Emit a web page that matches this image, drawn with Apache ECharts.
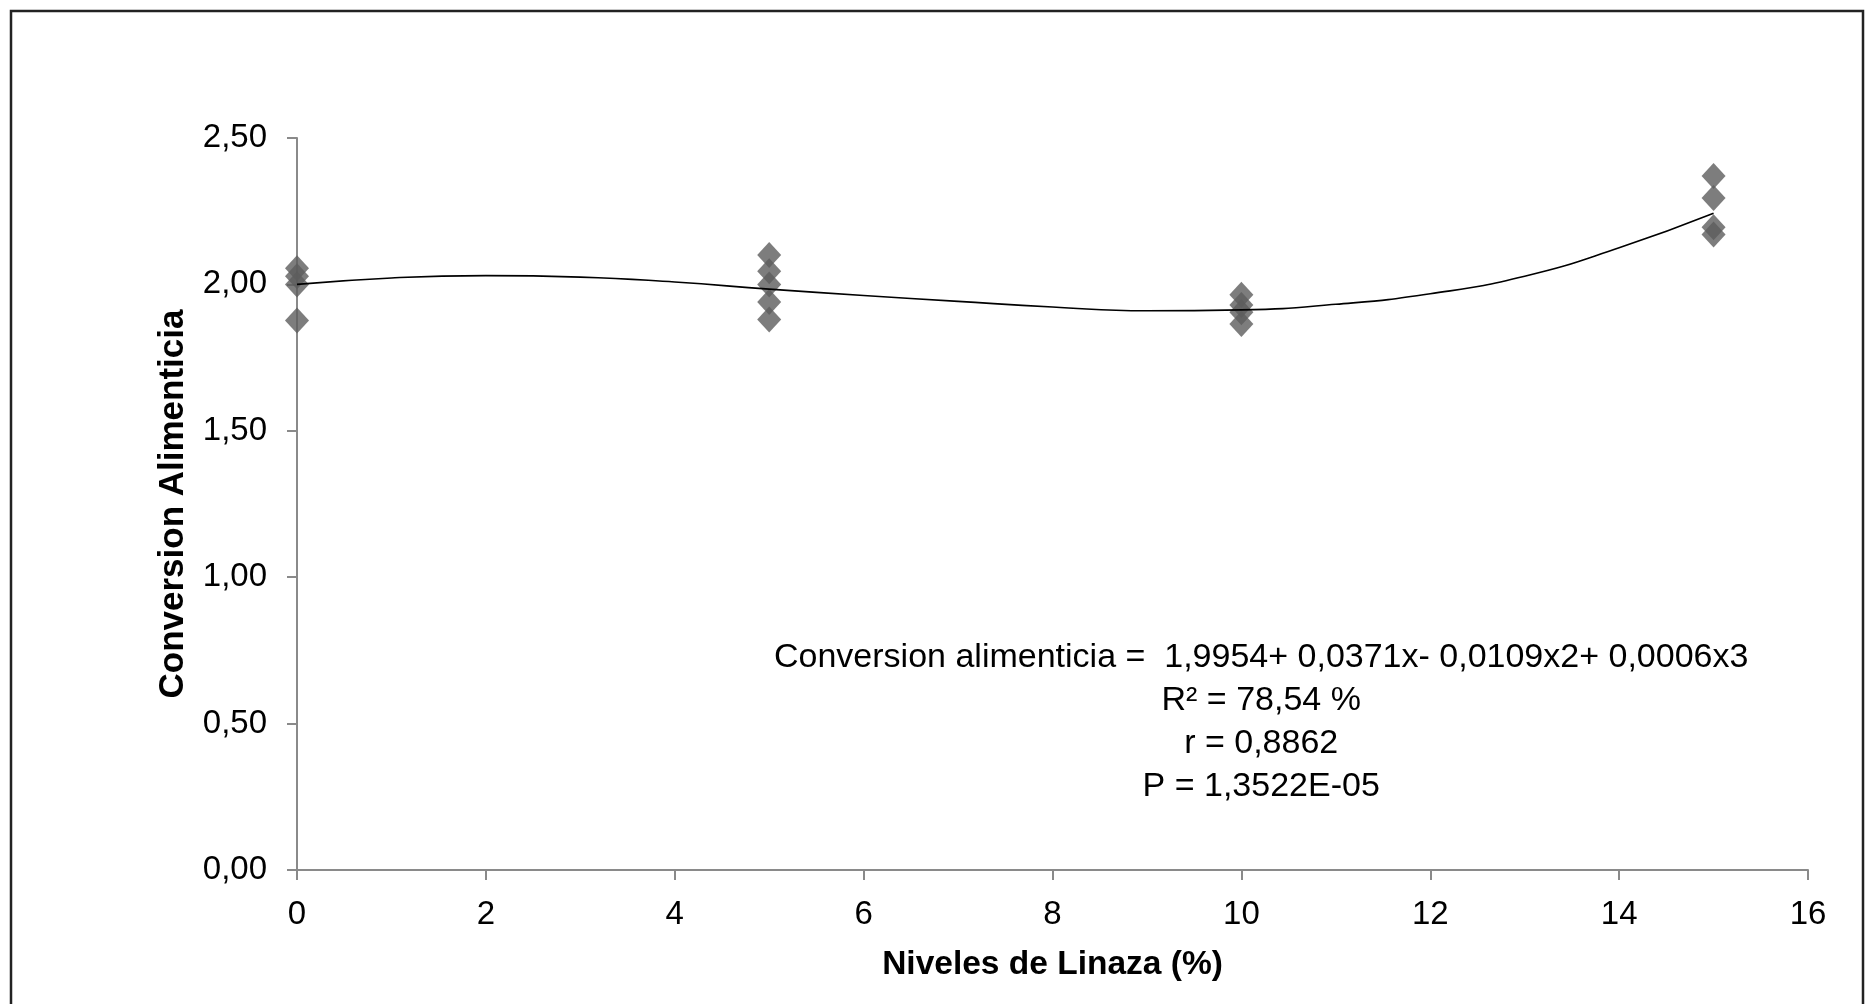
<!DOCTYPE html>
<html>
<head>
<meta charset="utf-8">
<title>Conversion Alimenticia</title>
<script src="https://cdn.jsdelivr.net/npm/echarts@6/dist/echarts.min.js"></script>
<style>
  html, body { margin: 0; padding: 0; background: #fff; }
  #main { width: 1874px; height: 1004px; }
</style>
</head>
<body>
<div id="main"></div>
<script>
var nivel0  = [2.055, 2.028, 2.000, 1.877];
var nivel5  = [2.100, 2.045, 2.000, 1.940, 1.880];
var nivel10 = [1.965, 1.930, 1.905, 1.865];
var nivel15 = [2.370, 2.295, 2.195, 2.170];

var curvaX = [0, 1, 2, 3, 4, 5, 6, 7, 8, 9, 10, 11, 12, 13, 14, 15];
var curvaY = [2.000, 2.022, 2.030, 2.025, 2.008, 1.984, 1.962, 1.942, 1.923, 1.910, 1.913, 1.932, 1.968, 2.028, 2.125, 2.243];

var ecuacion = [
    'Conversion alimenticia =  1,9954+ 0,0371x- 0,0109x2+ 0,0006x3',
    'R² = 78,54 %',
    'r = 0,8862',
    'P = 1,3522E-05'
];

var puntos = [];
[[0, nivel0], [5, nivel5], [10, nivel10], [15, nivel15]].forEach(function (g) {
    g[1].forEach(function (v) { puntos.push([g[0], v]); });
});
var curva = curvaX.map(function (x, i) { return [x, curvaY[i]]; });

var fuente = '"Liberation Sans", Arial, sans-serif';
var ejeColor = '#8a8a8a';

var myChart = echarts.init(document.getElementById('main'));
var option = {
    animation: false,
    backgroundColor: '#fff',
    grid: { left: 297, right: 66, top: 138, bottom: 134 },
    xAxis: {
        type: 'value',
        min: 0, max: 16, interval: 2,
        name: 'Niveles de Linaza (%)',
        nameLocation: 'middle',
        nameGap: 78,
        nameTextStyle: { fontFamily: fuente, fontSize: 33.5, fontWeight: 'bold', color: '#000' },
        axisLine: { onZero: false, lineStyle: { color: ejeColor, width: 2 } },
        axisTick: { show: true, length: 10, lineStyle: { color: ejeColor, width: 2 } },
        axisLabel: { margin: 28, fontFamily: fuente, fontSize: 33, color: '#000' },
        splitLine: { show: false }
    },
    yAxis: {
        type: 'value',
        min: 0, max: 2.5, interval: 0.5,
        name: 'Conversion Alimenticia',
        nameLocation: 'middle',
        nameGap: 106,
        nameTextStyle: { fontFamily: fuente, fontSize: 35, fontWeight: 'bold', color: '#000' },
        axisLine: { show: true, lineStyle: { color: ejeColor, width: 2 } },
        axisTick: { show: true, length: 10, lineStyle: { color: ejeColor, width: 2 } },
        axisLabel: {
            margin: 30, fontFamily: fuente, fontSize: 33, color: '#000',
            formatter: function (v) { return v.toFixed(2).replace('.', ','); }
        },
        splitLine: { show: false }
    },
    graphic: [
        {
            type: 'rect', silent: true,
            shape: { x: 11, y: 11, width: 1852, height: 1010 },
            style: { fill: 'none', stroke: '#222', lineWidth: 2.5 }
        },
        {
            type: 'group', left: 774, top: 641,
            children: ecuacion.map(function (t, i) {
                return {
                    type: 'text', x: 488, y: i * 43,
                    style: { text: t, fontFamily: fuente, fontSize: 34, fill: '#000', align: 'center' }
                };
            })
        }
    ],
    series: [
        {
            name: 'tendencia',
            type: 'line',
            data: curva,
            smooth: true,
            showSymbol: false,
            lineStyle: { color: '#000', width: 1.6 },
            z: 3
        },
        {
            name: 'observado',
            type: 'scatter',
            data: puntos,
            symbol: 'diamond',
            symbolSize: [24, 26],
            itemStyle: { color: '#5c5c5c' },
            z: 2
        }
    ]
};
myChart.setOption(option);
</script>
</body>
</html>
